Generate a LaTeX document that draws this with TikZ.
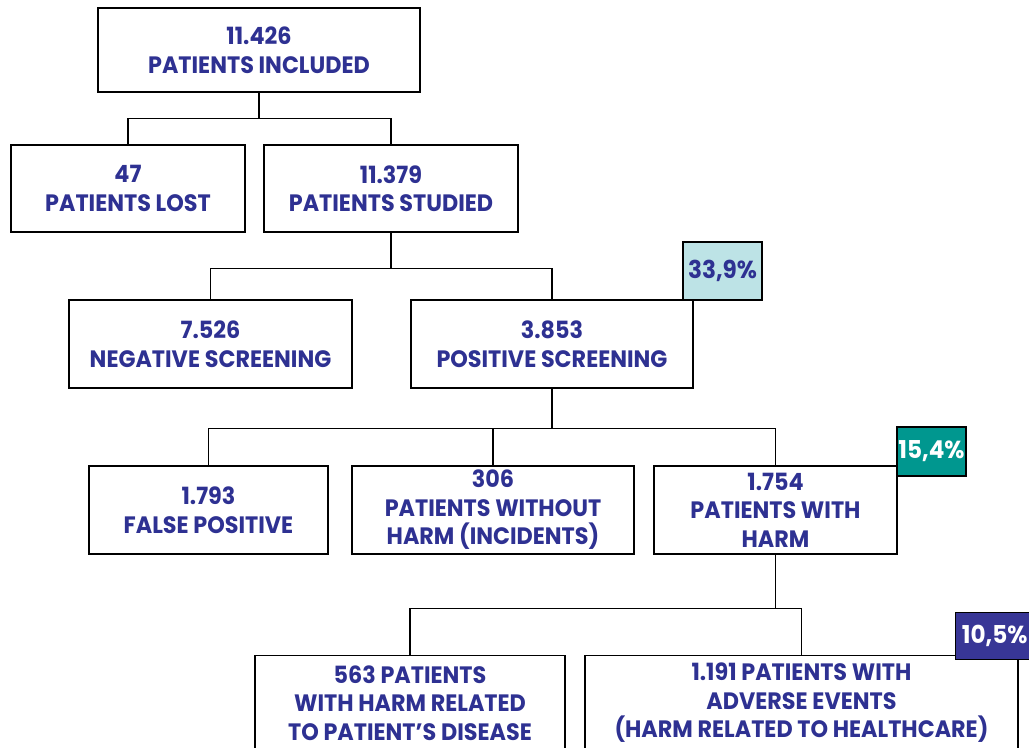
\documentclass[tikz,border=0pt]{standalone}
\usepackage{fontspec}
\setmainfont{Poppins}[FakeStretch=0.94]
\definecolor{txtblue}{RGB}{46,49,146}
\definecolor{pctlight}{RGB}{189,227,230}
\definecolor{pctteal}{RGB}{0,151,143}
\definecolor{pctdark}{RGB}{56,54,150}
\tikzset{
  box/.style={draw, line width=0.8pt, fill=white, text=txtblue, align=center,
    inner sep=0pt, font=\fontsize{13.5}{16.2}\selectfont\bfseries},
  pct/.style={draw, line width=0.8pt, inner sep=0pt, align=center,
    font=\fontsize{14}{16}\selectfont\bfseries},
  link/.style={line width=0.7pt}
}
\begin{document}
\begin{tikzpicture}[x=0.02cm,y=-0.02cm]
  \useasboundingbox (0,0) rectangle (1029,748);
  \clip (0,0) rectangle (1029,748);
  % level 0 and 1
  \node[box, minimum width=6.44cm, minimum height=1.68cm] (inc) at (259,50) {11.426\\PATIENTS INCLUDED};
  \node[box, minimum width=4.68cm, minimum height=1.74cm] (lost) at (128,188.5) {47\\PATIENTS LOST};
  \node[box, minimum width=5.08cm, minimum height=1.74cm] (std) at (391,188.5) {11.379\\PATIENTS STUDIED};
  % level 2
  \node[box, minimum width=5.66cm, minimum height=1.76cm] (neg) at (210.5,344) {7.526\\NEGATIVE SCREENING};
  \node[box, minimum width=5.64cm, minimum height=1.76cm] (pos) at (552,344) {3.853\\POSITIVE SCREENING};
  % level 3
  \node[box, minimum width=4.78cm, minimum height=1.76cm] (fp) at (208.5,510) {1.793\\FALSE POSITIVE};
  \node[box, minimum width=5.64cm, minimum height=1.76cm] (nh) at (493,510) {306\\PATIENTS WITHOUT\\HARM (INCIDENTS)};
  \node[box, minimum width=4.86cm, minimum height=1.76cm] (wh) at (775.5,510) {1.754\\PATIENTS WITH\\HARM};
  % level 4
  \node[box, minimum width=6.2cm, minimum height=1.9cm] (dis) at (410,703) {563 PATIENTS\\WITH HARM RELATED\\TO PATIENT'S DISEASE};
  \node[box, minimum width=8.66cm, minimum height=1.9cm] (ae) at (801.5,703) {1.191 PATIENTS WITH\\ADVERSE EVENTS\\(HARM RELATED TO HEALTHCARE)};
  % percentages
  \node[pct, fill=pctlight, text=txtblue, minimum width=1.58cm, minimum height=1.16cm] (p1) at (722.5,271) {33,9\%};
  \node[pct, fill=pctteal, text=white, minimum width=1.38cm, minimum height=0.98cm] (p2) at (931.5,451.5) {15,4\%};
  \node[pct, fill=pctdark, text=white, minimum width=1.56cm, minimum height=0.94cm, anchor=south west] (p3) at (955,660) {10,5\%};
  % connectors
  \draw[link] (inc.south) -- ++(0,26) coordinate (b1);
  \draw[link] (lost.north) |- (b1) -| (std.north);
  \draw[link] (std.south) -- ++(0,36) coordinate (b2);
  \draw[link] (neg.north) |- (b2) -| (pos.north);
  \draw[link] (pos.south) -- ++(0,40) coordinate (b3);
  \draw[link] (fp.north) |- (b3) -| (wh.north);
  \draw[link] (nh.north) -- (nh.north |- b3);
  \draw[link] (wh.south) -- ++(0,54) coordinate (b4);
  \draw[link] (dis.north) |- (b4) -| (ae.north);
\end{tikzpicture}
\end{document}
